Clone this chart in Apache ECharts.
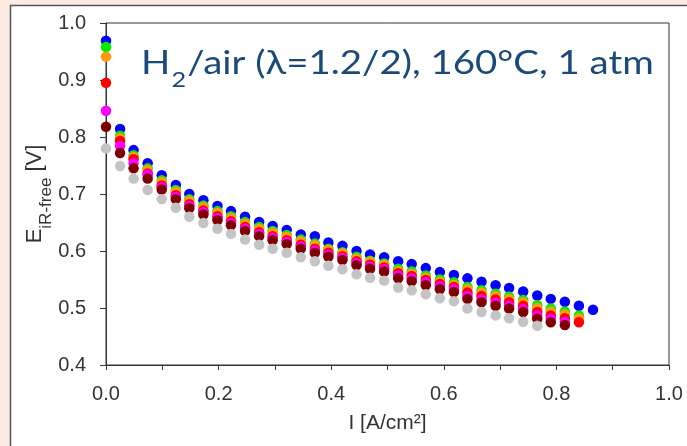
<!DOCTYPE html>
<html>
<head>
<meta charset="utf-8">
<script src="https://cdn.jsdelivr.net/npm/echarts@6/dist/echarts.min.js"></script>
<style>
html,body{margin:0;padding:0;background:#fcece4;}
#c{width:687px;height:446px;}
</style>
</head>
<body>
<div id="c"></div>
<script>
// current density I [A/cm2]
var currentI = [0, 0.025, 0.049, 0.074, 0.099, 0.124, 0.148, 0.173, 0.198, 0.222, 0.247, 0.272, 0.296, 0.321, 0.346, 0.371, 0.395, 0.420, 0.445, 0.469, 0.494, 0.519, 0.543, 0.568, 0.593, 0.618, 0.642, 0.667, 0.692, 0.716, 0.741, 0.766, 0.790, 0.815, 0.840, 0.865];

var blueV = [0.969, 0.814, 0.777, 0.754, 0.733, 0.716, 0.700, 0.689, 0.679, 0.670, 0.660, 0.651, 0.644, 0.637, 0.629, 0.626, 0.615, 0.609, 0.600, 0.594, 0.589, 0.582, 0.577, 0.570, 0.563, 0.558, 0.552, 0.546, 0.540, 0.535, 0.529, 0.522, 0.516, 0.511, 0.504, 0.497];
var greenV = [0.958, 0.802, 0.768, 0.745, 0.724, 0.707, 0.691, 0.680, 0.670, 0.661, 0.651, 0.642, 0.635, 0.628, 0.620, 0.613, 0.604, 0.598, 0.590, 0.583, 0.578, 0.569, 0.564, 0.557, 0.550, 0.545, 0.537, 0.531, 0.525, 0.520, 0.514, 0.505, 0.499, 0.494, 0.487];
var orangeV = [0.941, 0.798, 0.765, 0.742, 0.721, 0.704, 0.688, 0.677, 0.667, 0.658, 0.648, 0.639, 0.632, 0.625, 0.617, 0.610, 0.602, 0.596, 0.587, 0.581, 0.576, 0.565, 0.560, 0.553, 0.546, 0.541, 0.533, 0.527, 0.521, 0.516, 0.510, 0.500, 0.494, 0.489, 0.482];
var redV = [0.895, 0.793, 0.761, 0.736, 0.715, 0.698, 0.682, 0.671, 0.661, 0.652, 0.642, 0.633, 0.626, 0.619, 0.611, 0.604, 0.597, 0.591, 0.582, 0.576, 0.571, 0.561, 0.556, 0.549, 0.542, 0.537, 0.527, 0.521, 0.515, 0.510, 0.504, 0.493, 0.487, 0.482, 0.475];
var magentaV = [0.846, 0.784, 0.754, 0.734, 0.712, 0.695, 0.679, 0.668, 0.658, 0.649, 0.639, 0.630, 0.623, 0.616, 0.608, 0.601, 0.594, 0.588, 0.579, 0.573, 0.568, 0.557, 0.552, 0.545, 0.538, 0.533, 0.521, 0.515, 0.509, 0.504, 0.498, 0.487, 0.481, 0.476];
var maroonV = [0.818, 0.772, 0.745, 0.727, 0.708, 0.691, 0.675, 0.664, 0.654, 0.645, 0.635, 0.626, 0.619, 0.612, 0.604, 0.597, 0.590, 0.584, 0.575, 0.569, 0.564, 0.552, 0.547, 0.540, 0.533, 0.528, 0.516, 0.510, 0.504, 0.499, 0.493, 0.481, 0.475, 0.470];
var grayV = [0.780, 0.749, 0.727, 0.707, 0.691, 0.676, 0.660, 0.649, 0.639, 0.630, 0.620, 0.611, 0.604, 0.597, 0.589, 0.582, 0.574, 0.568, 0.559, 0.553, 0.548, 0.536, 0.531, 0.524, 0.517, 0.512, 0.499, 0.493, 0.487, 0.482, 0.476, 0.469];

var seriesDefs = [
  {name: 'blue', color: '#0000ff', values: blueV},
  {name: 'green', color: '#00ee00', values: greenV},
  {name: 'orange', color: '#ff9a10', values: orangeV},
  {name: 'red', color: '#ff0000', values: redV},
  {name: 'magenta', color: '#ff00ff', values: magentaV},
  {name: 'maroon', color: '#800000', values: maroonV},
  {name: 'gray', color: '#c4c4c4', values: grayV}
];

var yTicks = [0.4, 0.5, 0.6, 0.7, 0.8, 0.9, 1.0];
var xTickLabels = ['0.0', '0.2', '0.4', '0.6', '0.8', '1.0'];

var chart = echarts.init(document.getElementById('c'), null, {renderer: 'canvas'});

var series = seriesDefs.map(function (s) {
  return {
    name: s.name,
    type: 'scatter',
    symbol: 'circle',
    symbolSize: 10.5,
    itemStyle: {color: s.color, opacity: 1},
    data: s.values.map(function (v, i) { return [currentI[i], v]; }),
    animation: false
  };
});

var axisFont = 'Liberation Sans, Arial, sans-serif';

chart.setOption({
  backgroundColor: '#fcece4',
  animation: false,
  graphic: [
    {
      type: 'rect', z: -10, silent: true,
      shape: {x: 10.5, y: 5.5, width: 700, height: 460},
      style: {fill: '#ffffff', stroke: '#555555', lineWidth: 1.5}
    },
    {
      type: 'text', z: 100, left: 141, top: 48, silent: true,
      scaleX: 1.2, scaleY: 1,
      style: {
        text: '{m|H}{s|2}{m|/air (λ=1.2/2), 160°C, 1 atm}',
        rich: {
          m: {fontSize: 32, fontFamily: 'Lato', fill: '#1a4a7a'},
          s: {fontSize: 21, fontFamily: 'Lato', fill: '#1a4a7a', padding: [32, 1, 0, 1]}
        }
      }
    }
  ],
  grid: {
    left: 106, top: 23, right: 18, bottom: 81,
    show: true, borderColor: '#333333', borderWidth: 1, backgroundColor: 'transparent'
  },
  xAxis: {
    type: 'value', min: 0, max: 1, interval: 0.1,
    name: 'I [A/cm²]', nameLocation: 'middle', nameGap: 48, nameMoveOverlap: false,
    nameTextStyle: {fontSize: 21, fontFamily: axisFont, color: '#333333'},
    axisLine: {show: true, onZero: false, lineStyle: {color: '#333333', width: 1}},
    axisTick: {show: true, inside: false, length: 5, lineStyle: {color: '#333333'}},
    axisLabel: {
      fontSize: 20, fontFamily: axisFont, color: '#333333', margin: 19,
      formatter: function (v) {
        var s = v.toFixed(1);
        return xTickLabels.indexOf(s) >= 0 ? s : '';
      }
    },
    splitLine: {show: false}
  },
  yAxis: {
    type: 'value', min: 0.4, max: 1.0, interval: 0.1,
    name: '{e|E}{s|iR-free}{e| [V]}', nameLocation: 'middle', nameGap: 51, nameRotate: 90,
    nameMoveOverlap: false,
    nameTextStyle: {
      color: '#333333',
      rich: {
        e: {fontSize: 22, fontFamily: axisFont, color: '#333333'},
        s: {fontSize: 17, fontFamily: axisFont, color: '#333333', padding: [24, 0, 0, 0]}
      }
    },
    axisLine: {show: true, onZero: false, lineStyle: {color: '#333333', width: 1}},
    axisTick: {show: true, inside: false, length: 6, lineStyle: {color: '#333333'}},
    axisLabel: {
      fontSize: 20, fontFamily: axisFont, color: '#333333', margin: 20,
      formatter: function (v) {
        var s = v.toFixed(1);
        return yTicks.map(function (t) { return t.toFixed(1); }).indexOf(s) >= 0 ? s : '';
      }
    },
    splitLine: {show: false}
  },
  series: series
});
</script>
</body>
</html>
